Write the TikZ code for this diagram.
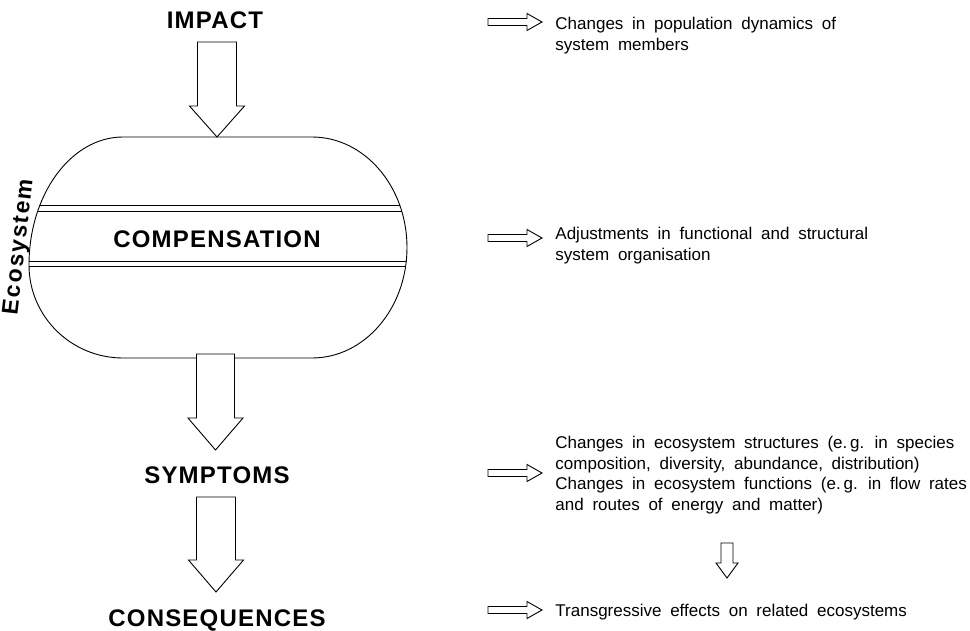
\documentclass[tikz,border=0pt]{standalone}
\usepackage{fontspec}
\setmainfont{Liberation Sans}
\newfontfamily\headfont[LetterSpace=5]{Liberation Sans}
\newfontfamily\labelfont[LetterSpace=8]{Liberation Sans}
\newfontfamily\notefont[WordSpace=1.85]{Liberation Sans}
\usetikzlibrary{calc}

% hollow block arrow pointing down: from, to, half shaft, half head, head length
\newcommand{\downarr}[5]{\draw[hollow] let \p1=(#1), \p2=(#2) in
  (\x1-#3,\y1) -- (\x1-#3,\y2+#5) -- (\x1-#4,\y2+#5) -- (\x1,\y2)
  -- (\x1+#4,\y2+#5) -- (\x1+#3,\y2+#5) -- (\x1+#3,\y1) -- cycle;}
% slim arrow pointing right, tip just before the note
\newcommand{\slimarr}[2]{\draw[hollow] let \p1=(#1), \p2=(#2.west) in
  (\x1,\y1+3.5) -- (\x2-28,\y1+3.5) -- (\x2-28,\y1+8.5) -- (\x2-13,\y1)
  -- (\x2-28,\y1-8.5) -- (\x2-28,\y1-3.5) -- (\x1,\y1-3.5) -- cycle;}
% outline of the ecosystem
\newcommand{\ecopath}{(123,-137) -- (312,-137)
  arc[start angle=90, end angle=-90, x radius=95, y radius=110.5] -- (123,-358)
  arc[start angle=270, end angle=180, x radius=94, y radius=93]
  arc[start angle=180, end angle=90, x radius=94, y radius=128] -- cycle}

\begin{document}
\begin{tikzpicture}[
    x=1pt, y=1pt, line width=0.9pt,
    every node/.style={inner sep=0pt},
    head/.style={font=\headfont\bfseries\fontsize{24}{28}\selectfont, anchor=base},
    note/.style={font=\notefont\fontsize{17}{20.7}\selectfont, align=left, anchor=north west},
    hollow/.style={draw, fill=white, line join=miter}
]
\useasboundingbox (0,0) rectangle (970,-630);

% ecosystem body
\draw \ecopath;
\begin{scope}
  \clip \ecopath;
  \foreach \yy in {205,211,261,266}
    \draw[line width=0.8pt] (0,-\yy) -- (420,-\yy);
\end{scope}
\coordinate (ecotop) at (217,-137);
\coordinate (ecobot) at (215.5,-354);

\node[head] (impact) at (215,-28) {IMPACT};
\node[head] (comp) at (217,-247) {COMPENSATION};
\node[head] (sympt) at (217,-483) {SYMPTOMS};
\node[head] (conseq) at (217,-626) {CONSEQUENCES};
\node[rotate=83.5, font=\labelfont\bfseries\fontsize{23}{26}\selectfont] (ecolabel) at (19.5,-247) {Ecosystem};

\downarr{$(impact.base)+(2,-14)$}{ecotop}{19.5}{27.5}{31}
\downarr{ecobot}{$(sympt.base)+(-1.5,33)$}{19}{27.5}{32}
\downarr{$(sympt.base)+(-1,-14)$}{$(conseq.base)+(-1,34)$}{19.5}{27.5}{32}

% notes on the right
\node[note] (popdyn) at (555,-16.8) {Changes in population dynamics of\\system members};
\node[note] (adjust) at (555,-226.8) {Adjustments in functional and structural\\system organisation};
\node[note] (struct) at (555,-435.6) {Changes in ecosystem structures (e.\,g. in species\\composition, diversity, abundance, distribution)\\Changes in ecosystem functions (e.\,g. in flow rates\\and routes of energy and matter)};
\node[note] (transg) at (555,-603.8) {Transgressive effects on related ecosystems};

\coordinate (s1) at (488,-22);
\coordinate (s2) at (488,-238);
\coordinate (s3) at (488,-473);
\coordinate (s4) at (488,-610);
\slimarr{s1}{popdyn}
\slimarr{s2}{adjust}
\slimarr{s3}{struct}
\slimarr{s4}{transg}

\coordinate (d1) at (727,-543);
\coordinate (d2) at (727,-578);
\downarr{d1}{d2}{6}{11}{15}
\end{tikzpicture}
\end{document}
